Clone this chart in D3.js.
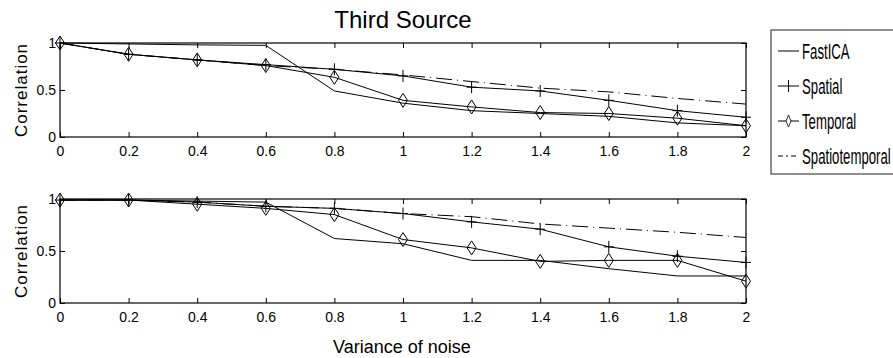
<!DOCTYPE html>
<html>
<head>
<meta charset="utf-8">
<script src="https://cdn.jsdelivr.net/npm/d3@7"></script>
<style>
  body { margin: 0; background: #fff; }
  text { font-family: "Liberation Sans", Arial, sans-serif; fill: #000; }
  .domain { stroke: none; }
</style>
</head>
<body>
<div class="chart"></div>
<script>
var svgWidth = 893;
var svgHeight = 358;

// noise variance values (x)
var noise = [0, 0.2, 0.4, 0.6, 0.8, 1, 1.2, 1.4, 1.6, 1.8, 2];
var xTickLabels = ["0", "0.2", "0.4", "0.6", "0.8", "1", "1.2", "1.4", "1.6", "1.8", "2"];
var yTicks = [0, 0.5, 1];
var yTickLabels = ["0", "0.5", "1"];

// top panel
var fastica1 = [1.0, 0.99, 0.98, 0.975, 0.49, 0.36, 0.28, 0.25, 0.22, 0.15, 0.12];
var spatial1 = [1.0, 0.88, 0.82, 0.77, 0.72, 0.65, 0.53, 0.49, 0.39, 0.28, 0.21];
var temporal1 = [1.0, 0.88, 0.82, 0.76, 0.635, 0.39, 0.32, 0.26, 0.25, 0.2, 0.12];
var spatiotemporal1 = [1.0, 0.88, 0.82, 0.76, 0.72, 0.66, 0.59, 0.52, 0.48, 0.41, 0.35];

// bottom panel
var fastica2 = [0.99, 0.99, 0.98, 0.97, 0.62, 0.57, 0.41, 0.41, 0.33, 0.26, 0.26];
var spatial2 = [0.99, 0.99, 0.97, 0.93, 0.91, 0.86, 0.78, 0.71, 0.54, 0.45, 0.39];
var temporal2 = [0.99, 0.99, 0.95, 0.91, 0.85, 0.61, 0.53, 0.40, 0.41, 0.41, 0.21];
var spatiotemporal2 = [0.99, 0.99, 0.97, 0.93, 0.91, 0.86, 0.83, 0.76, 0.72, 0.68, 0.63];

var seriesNames = ["FastICA", "Spatial", "Temporal", "Spatiotemporal"];

var svg = d3.select(".chart")
  .append("svg")
  .attr("width", svgWidth)
  .attr("height", svgHeight);

var plotLeft = 60, plotRight = 746;

var xScale = d3.scaleLinear().domain([0, 2]).range([plotLeft, plotRight]);

var lineStyle = {
  "FastICA": { dash: null, marker: null },
  "Spatial": { dash: null, marker: "plus" },
  "Temporal": { dash: null, marker: "diamond" },
  "Spatiotemporal": { dash: "16,5,1,5", marker: null }
};

function drawMarker(g, type, x, y) {
  if (type === "plus") {
    g.append("path")
      .attr("d", `M${x - 5},${y}H${x + 5}M${x},${y - 6}V${y + 6}`)
      .attr("stroke", "#000").attr("stroke-width", 1).attr("fill", "none");
  } else if (type === "diamond") {
    g.append("path")
      .attr("d", `M${x},${y - 7}L${x + 4.5},${y}L${x},${y + 7}L${x - 4.5},${y}Z`)
      .attr("stroke", "#000").attr("stroke-width", 1).attr("fill", "none");
  }
}

function drawPanel(top, bottom, data) {
  var yScale = d3.scaleLinear().domain([0, 1]).range([bottom, top]);
  var g = svg.append("g");

  // frame
  g.append("rect")
    .attr("x", plotLeft).attr("y", top)
    .attr("width", plotRight - plotLeft).attr("height", bottom - top)
    .attr("fill", "none").attr("stroke", "#000").attr("stroke-width", 1.2);

  // bottom axis with labels, ticks inward
  var bottomAxis = d3.axisBottom(xScale)
    .tickValues(noise)
    .tickFormat((d, i) => xTickLabels[i])
    .tickSize(-5)
    .tickPadding(9);
  g.append("g")
    .attr("transform", `translate(0, ${bottom})`)
    .call(bottomAxis)
    .call(a => a.selectAll("text").attr("font-size", 14).attr("font-family", "Liberation Sans, Arial, sans-serif"));

  // top ticks
  g.append("g")
    .attr("transform", `translate(0, ${top})`)
    .call(d3.axisTop(xScale).tickValues(noise).tickFormat("").tickSize(-5));

  // left axis with labels
  var leftAxis = d3.axisLeft(yScale)
    .tickValues(yTicks)
    .tickFormat((d, i) => yTickLabels[i])
    .tickSize(-5)
    .tickPadding(4);
  g.append("g")
    .attr("transform", `translate(${plotLeft}, 0)`)
    .call(leftAxis)
    .call(a => a.selectAll("text").attr("font-size", 14).attr("font-family", "Liberation Sans, Arial, sans-serif"));

  // right ticks
  g.append("g")
    .attr("transform", `translate(${plotRight}, 0)`)
    .call(d3.axisRight(yScale).tickValues(yTicks).tickFormat("").tickSize(-5));

  var line = d3.line()
    .x((d, i) => xScale(noise[i]))
    .y(d => yScale(d));

  seriesNames.forEach(function(name) {
    var vals = data[name];
    var st = lineStyle[name];
    g.append("path")
      .datum(vals)
      .attr("d", line)
      .attr("fill", "none")
      .attr("stroke", "#000")
      .attr("stroke-width", 1)
      .attr("stroke-dasharray", st.dash);
    if (st.marker) {
      vals.forEach(function(v, i) {
        drawMarker(g, st.marker, xScale(noise[i]), yScale(v));
      });
    }
  });

  // y label
  svg.append("text")
    .attr("transform", `translate(27, ${(top + bottom) / 2}) rotate(-90)`)
    .attr("text-anchor", "middle")
    .attr("font-size", 17)
    .attr("letter-spacing", 1)
    .text("Correlation");
}

drawPanel(43, 137, {
  "FastICA": fastica1, "Spatial": spatial1,
  "Temporal": temporal1, "Spatiotemporal": spatiotemporal1
});
drawPanel(199, 303, {
  "FastICA": fastica2, "Spatial": spatial2,
  "Temporal": temporal2, "Spatiotemporal": spatiotemporal2
});

// title
svg.append("text")
  .attr("x", 403).attr("y", 28)
  .attr("text-anchor", "middle")
  .attr("font-size", 24)
  .text("Third Source");

// x label
svg.append("text")
  .attr("x", 402).attr("y", 353)
  .attr("text-anchor", "middle")
  .attr("font-size", 18)
  .text("Variance of noise");

// legend
var legend = svg.append("g");
legend.append("rect")
  .attr("x", 771).attr("y", 30)
  .attr("width", 140).attr("height", 144)
  .attr("fill", "#fff").attr("stroke", "#444").attr("stroke-width", 1.2);

var legendY = d3.scalePoint().domain(seriesNames).range([51, 156]);

seriesNames.forEach(function(name) {
  var y = legendY(name);
  var st = lineStyle[name];
  legend.append("line")
    .attr("x1", 778).attr("x2", 799)
    .attr("y1", y).attr("y2", y)
    .attr("stroke", "#000").attr("stroke-width", 1)
    .attr("stroke-dasharray", st.dash ? "5,3,2,3" : null);
  if (st.marker === "plus") {
    legend.append("path").attr("d", `M788.5,${y - 6}V${y + 6}`).attr("stroke", "#000");
  } else if (st.marker === "diamond") {
    legend.append("path")
      .attr("d", `M788.5,${y - 6}L791,${y}L788.5,${y + 6}L786,${y}Z`)
      .attr("stroke", "#000").attr("stroke-width", 0.8).attr("fill", "#fff");
  }
  legend.append("text")
    .attr("transform", `translate(802, ${y + 8}) scale(0.6, 1)`)
    .attr("font-size", 22)
    .text(name);
});
</script>
</body>
</html>
